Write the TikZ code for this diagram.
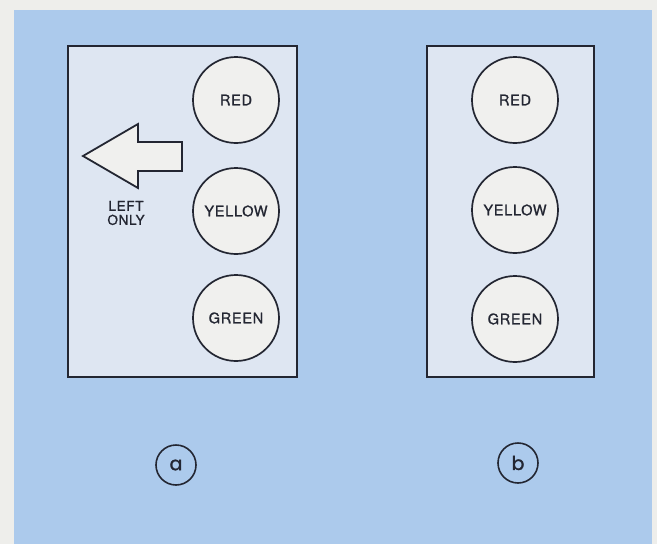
\documentclass[tikz,border=0pt]{standalone}
\usepackage{fontspec}
\setmainfont{TeX Gyre Heros}[LetterSpace=5,FakeBold=1.2]
\newfontfamily\tagfont{Poppins}[FakeBold=1.5]
\definecolor{pagebg}{RGB}{238,238,235}
\definecolor{panel}{RGB}{172,202,236}
\definecolor{boxfill}{RGB}{222,230,242}
\definecolor{lampfill}{RGB}{240,240,238}
\definecolor{ink}{RGB}{35,38,50}
\begin{document}
\begin{tikzpicture}[x=1pt,y=-1pt,
  housing/.style={draw=ink,line width=2pt,fill=boxfill},
  lamp/.style={circle,draw=ink,line width=1.7pt,fill=lampfill,minimum size=86pt,inner sep=0pt,font=\fontsize{14.5}{14.5}\selectfont,text=ink},
  tag/.style={circle,draw=ink,line width=1.6pt,minimum size=40pt,inner sep=0pt,font=\tagfont\fontsize{19}{19}\selectfont,text=ink},
  lbl/.style={align=center,font=\fontsize{13.5}{14}\selectfont,text=ink}]
\useasboundingbox (0,0) rectangle (657,544);
\fill[pagebg] (0,0) rectangle (657,544);
\fill[panel] (14,10) rectangle (652,544);
% housing a
\draw[housing] (68,46) rectangle (297,377);
\node[lamp] (ra) at (236,100) {RED};
\node[lamp] (ya) at (236,211) {YELLOW};
\node[lamp] (ga) at (236,318) {GREEN};
\draw[draw=ink,line width=1.8pt,fill=lampfill,line join=miter]
  (83,156) -- (138,124) -- (138,142) -- (182,142) -- (182,171) -- (138,171) -- (138,188) -- cycle;
\node[lbl] (lo) at (126,213) {LEFT\\ONLY};
% housing b
\draw[housing] (427,46) rectangle (594,377);
\node[lamp] (rb) at (515,100) {RED};
\node[lamp] (yb) at (515,210) {YELLOW};
\node[lamp] (gb) at (515,319) {GREEN};
% tags
\node[tag] (ta) at (176,465) {a};
\node[tag] (tb) at (518,463) {b};
\end{tikzpicture}
\end{document}
